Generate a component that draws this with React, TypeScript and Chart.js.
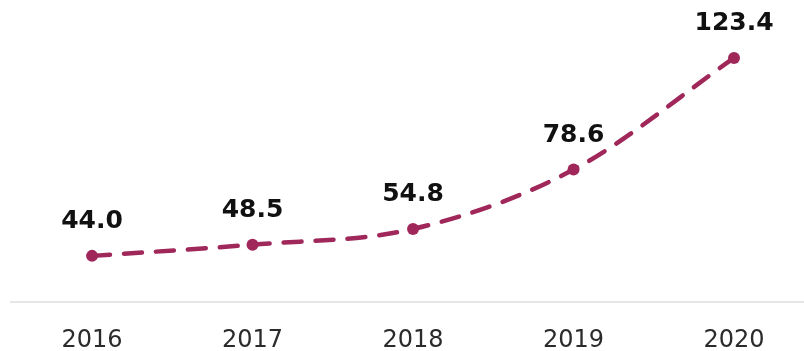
import React, { useEffect, useRef } from "react";
import { Chart, registerables } from "chart.js";

Chart.register(...registerables);

const years = [2016, 2017, 2018, 2019, 2020];
const values = [44.0, 48.5, 54.8, 78.6, 123.4];
const valueLabels = ["44.0", "48.5", "54.8", "78.6", "123.4"];

const LINE_COLOR = "#a02759";

const labelPlugin = {
  id: "pointLabels",
  afterDatasetsDraw(chart: any) {
    const ctx = chart.ctx;
    const meta = chart.getDatasetMeta(0);
    ctx.save();
    ctx.font = "bold 25px 'DejaVu Sans'";
    ctx.fillStyle = "#111111";
    ctx.textAlign = "center";
    ctx.textBaseline = "alphabetic";
    meta.data.forEach((pt: any, i: number) => {
      ctx.fillText(valueLabels[i], pt.x, pt.y - 28);
    });
    ctx.restore();
  },
};

export default function App() {
  const ref = useRef<HTMLCanvasElement | null>(null);
  useEffect(() => {
    if (!ref.current) return;
    const chart = new Chart(ref.current, {
      type: "line",
      data: {
        datasets: [
          {
            data: years.map((y, i) => ({ x: y, y: values[i] })),
            borderColor: LINE_COLOR,
            backgroundColor: LINE_COLOR,
            borderWidth: 4.5,
            borderDash: [18, 14],
            borderCapStyle: "round",
            pointRadius: 6,
            pointHoverRadius: 6,
            pointBackgroundColor: LINE_COLOR,
            pointBorderColor: LINE_COLOR,
            pointBorderWidth: 0,
            cubicInterpolationMode: "monotone",
            fill: false,
            clip: false,
          },
        ],
      },
      options: {
        responsive: false,
        animation: false,
        layout: { autoPadding: false, padding: { left: 11, right: 0, top: 20, bottom: 0 } },
        plugins: {
          legend: { display: false },
          tooltip: { enabled: false },
        },
        scales: {
          x: {
            type: "linear",
            min: 2015.495,
            max: 2020.436,
            grid: { display: false, drawTicks: false },
            border: { display: true, color: "#e6e6e6", width: 2 },
            ticks: {
              stepSize: 1,
              includeBounds: false,
              padding: 24,
              color: "#2b2b2b",
              font: { family: "'DejaVu Sans'", size: 24 },
              callback: (v: any) => String(v),
            },
            afterFit: (scale: any) => {
              scale.height = 49;
              scale.paddingLeft = 0;
              scale.paddingRight = 0;
            },
          },
          y: {
            display: false,
            min: 25.5,
            max: 138.6,
          },
        },
      },
      plugins: [labelPlugin],
    });
    return () => chart.destroy();
  }, []);
  return (
    <div style={{ position: "fixed", left: 0, top: 0, width: 804, height: 351, background: "#fff" }}>
      <canvas ref={ref} width={804} height={351} />
    </div>
  );
}
